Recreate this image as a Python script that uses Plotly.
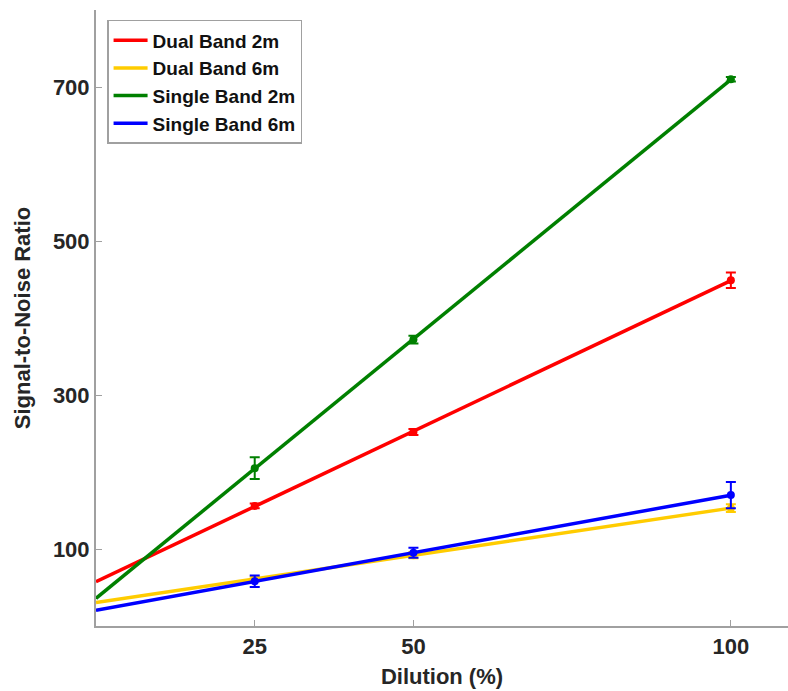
import numpy as np
import plotly.graph_objects as go

dilution = [25, 50, 100]
series_names = ["Dual Band 2m", "Dual Band 6m", "Single Band 2m", "Single Band 6m"]
dual_2m = [156, 252, 449]
dual_2m_err = [3, 4, 10]
dual_6m = [61, 92, 153]
dual_6m_err = [3, 4, 5]
single_2m = [205, 372, 710]
single_2m_err = [14, 5, 3]
single_6m = [58, 95, 170]
single_6m_err = [7.5, 6.5, 17]
x_ticks = [25, 50, 100]
y_ticks = [100, 300, 500, 700]

colors = ["#ff0000", "#ffcc00", "#008000", "#0000ff"]
values = [dual_2m, dual_6m, single_2m, single_6m]
errors = [dual_2m_err, dual_6m_err, single_2m_err, single_6m_err]

FONT = "Arial, Liberation Sans, sans-serif"
fig = go.Figure()
fit_x = np.array([0, 100])
for i, (name, y, e, c) in enumerate(zip(series_names, values, errors, colors)):
    slope, icpt = np.polyfit(dilution, y, 1)
    fig.add_trace(go.Scatter(
        x=fit_x, y=slope * fit_x + icpt, mode="lines", name=name,
        line=dict(color=c, width=3.5), showlegend=True))
    fig.add_trace(go.Scatter(
        x=dilution, y=y, mode="markers", name=name, showlegend=False,
        marker=dict(color=c, size=8),
        error_y=dict(type="data", array=e, visible=True, color=c, thickness=2, width=5)))

fig.update_layout(
    width=788, height=691,
    margin=dict(l=96, r=0, t=10, b=65),
    plot_bgcolor="white", paper_bgcolor="white",
    font=dict(family=FONT, color="#262626"),
    showlegend=True,
    legend=dict(
        x=0.016, y=0.984, xanchor="left", yanchor="top",
        bordercolor="#a0a0a0", borderwidth=1.5, bgcolor="white",
        font=dict(family=FONT, size=19, color="#111111", weight="bold"),
        tracegroupgap=0, itemwidth=34,
    ),
    xaxis=dict(
        range=[0, 109], tickvals=x_ticks, ticktext=[str(t) for t in x_ticks],
        showgrid=False, zeroline=False, showline=True, linecolor="#a0a0a0", linewidth=2,
        ticks="inside", ticklen=6, tickcolor="#a0a0a0", tickwidth=1,
        tickfont=dict(family=FONT, size=22, color="#262626", weight="bold"),
        title=dict(text="Dilution (%)", standoff=10,
                   font=dict(family=FONT, size=22, color="#262626", weight="bold")),
    ),
    yaxis=dict(
        range=[0, 800], tickvals=y_ticks, ticktext=[str(t) for t in y_ticks],
        showgrid=False, zeroline=False, showline=True, linecolor="#a0a0a0", linewidth=2,
        ticks="inside", ticklen=6, tickcolor="#a0a0a0", tickwidth=1,
        tickfont=dict(family=FONT, size=22, color="#262626", weight="bold"),
        title=dict(text="Signal-to-Noise Ratio", standoff=16,
                   font=dict(family=FONT, size=22, color="#262626", weight="bold")),
    ),
)

fig.write_html("out.html")
